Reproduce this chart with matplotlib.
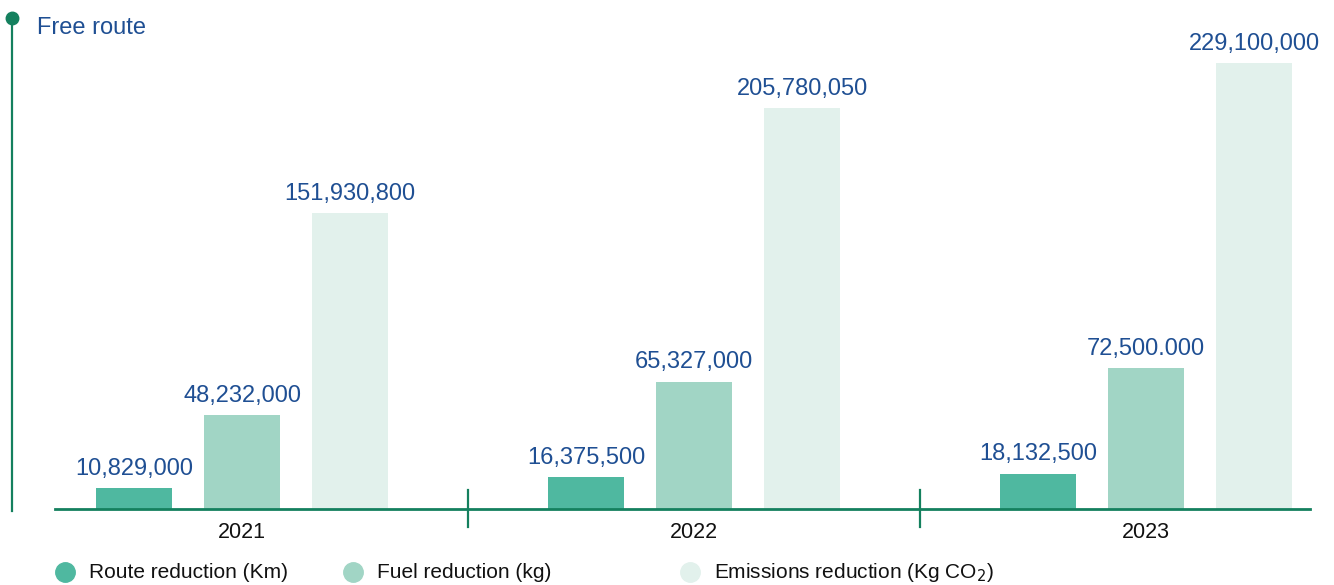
import numpy as np
import matplotlib.pyplot as plt
from matplotlib.lines import Line2D

plt.rcParams['font.family'] = ['Liberation Sans', 'DejaVu Sans']

# data
years = ['2021', '2022', '2023']
route_km = [10829000, 16375500, 18132500]
fuel_kg = [48232000, 65327000, 72500000]
emis_kg = [151930800, 205780050, 229100000]
value_labels = [
    ['10,829,000', '48,232,000', '151,930,800'],
    ['16,375,500', '65,327,000', '205,780,050'],
    ['18,132,500', '72,500.000', '229,100,000'],
]
series_names = ['Route reduction (Km)', 'Fuel reduction (kg)', 'Emissions reduction (Kg CO$_2$)']
colors = ['#4fb8a0', '#a1d5c5', '#e2f1ec']

line_green = '#14805e'
text_blue = '#1f4f93'

W, H = 1334, 585
fig = plt.figure(figsize=(W / 100, H / 100), dpi=100)

# axes placed in pixel terms
ax_left, ax_right = 55, 1310
ax_bottom, ax_top = 509, 20
ax = fig.add_axes([ax_left / W, (H - ax_bottom) / H,
                   (ax_right - ax_left) / W, (ax_bottom - ax_top) / H])

x = np.arange(len(years))
width = 76 / 452
offset = 108 / 452
series = [route_km, fuel_kg, emis_kg]
for i, vals in enumerate(series):
    pos = x + (i - 1) * offset
    ax.bar(pos, vals, width=width, color=colors[i], zorder=2)
    for j, v in enumerate(vals):
        ax.annotate(value_labels[j][i], (pos[j], v), xytext=(0, 6),
                    textcoords='offset points', ha='center', va='bottom',
                    color=text_blue, fontsize=17)

x_lo = -(242 - ax_left) / 452
x_hi = 2 + (ax_right - 1146) / 452
ax.set_xlim(x_lo, x_hi)
ymax = 229100000 * (ax_bottom - ax_top) / (ax_bottom - 63)
ax.set_ylim(0, ymax)

for s in ['top', 'right', 'left']:
    ax.spines[s].set_visible(False)
ax.spines['bottom'].set_color(line_green)
ax.spines['bottom'].set_linewidth(2)
ax.set_yticks([])
ax.set_xticks(x)
ax.set_xticklabels(years, fontsize=15.5, color='#111111')
ax.tick_params(axis='x', length=0, pad=9)

# group separators
for sep in [0.5, 1.5]:
    ax.plot([sep, sep], [-0.037 * ymax, 0.038 * ymax], color=line_green,
            lw=1.6, clip_on=False, zorder=3)

# left vertical axis with dot
fig.add_artist(Line2D([12 / W, 12 / W], [(H - 18) / H, (H - 511) / H],
                      color=line_green, lw=1.6))
fig.add_artist(Line2D([12 / W], [(H - 18) / H], marker='o', markersize=9,
                      color=line_green))
fig.text(37 / W, (H - 28) / H, 'Free route', color=text_blue, fontsize=17,
         va='center', ha='left')

# legend
leg_dot_x = [65, 353, 690]
for i, name in enumerate(series_names):
    fig.add_artist(Line2D([leg_dot_x[i] / W], [(H - 572) / H], marker='o',
                          markersize=14, color=colors[i], lw=0))
    fig.text((leg_dot_x[i] + 24) / W, (H - 572) / H, name, fontsize=15,
             color='#111111', va='center', ha='left')

fig.savefig('out.png', dpi=100)
